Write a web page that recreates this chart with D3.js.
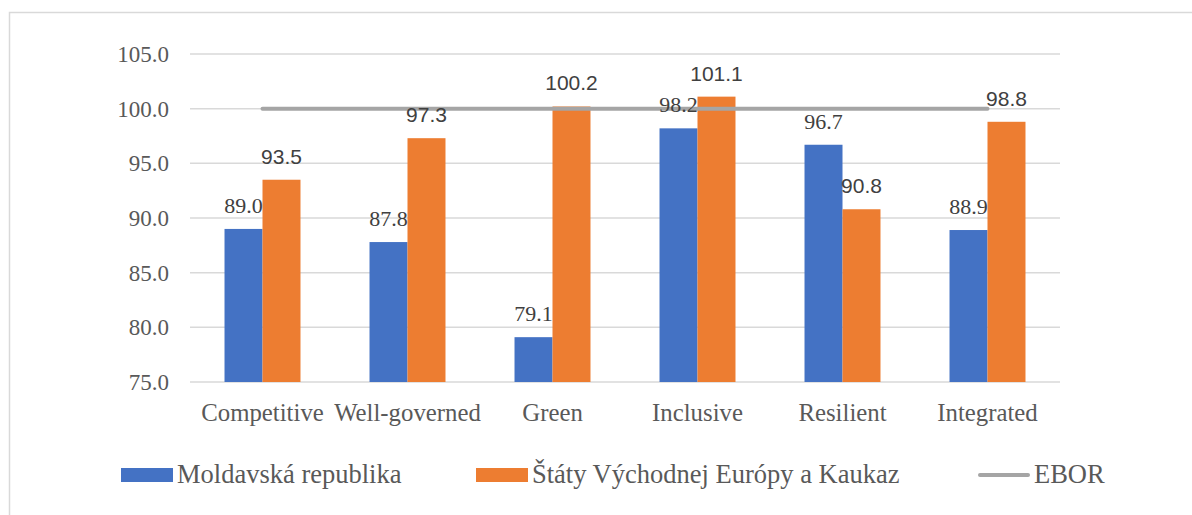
<!DOCTYPE html>
<html><head><meta charset="utf-8">
<script src="https://cdn.jsdelivr.net/npm/d3@7"></script>
<style>html,body{margin:0;padding:0;background:#fff;}svg{display:block;}</style>
</head><body>
<svg id="chart" width="1192" height="515"></svg>
<script>
const categories = ["Competitive","Well-governed","Green","Inclusive","Resilient","Integrated"];
const seriesNames = ["Moldavská republika","Štáty Východnej Európy a Kaukaz","EBOR"];
const moldova = [89.0, 87.8, 79.1, 98.2, 96.7, 88.9];
const eeCaucasus = [93.5, 97.3, 100.2, 101.1, 90.8, 98.8];
const ebor = [100, 100, 100, 100, 100, 100];
const yTicks = [75, 80, 85, 90, 95, 100, 105];

const svg = d3.select("#chart");
const txt = "#595959";
const serif = "'Liberation Serif','Times New Roman',serif";
const sans = "'Liberation Sans',Arial,sans-serif";

// outer border
svg.append("rect").attr("x",9.5).attr("y",12.5).attr("width",1200).attr("height",520)
  .attr("fill","none").attr("stroke","#d9d9d9").attr("stroke-width",1.5);

const x0 = d3.scaleBand().domain(categories).range([190,1060]).paddingInner(0.476).paddingOuter(0.238);
const x1 = d3.scaleBand().domain([0,1]).range([0,x0.bandwidth()]);
const y = d3.scaleLinear().domain([75,105]).range([382,54]);

// gridlines
svg.append("g").selectAll("line").data(yTicks).join("line")
  .attr("x1",190).attr("x2",1060).attr("y1",d=>y(d)).attr("y2",d=>y(d))
  .attr("stroke","#d9d9d9").attr("stroke-width",1.5);

// y axis labels
const yAxis = d3.axisLeft(y).tickValues(yTicks).tickFormat(d3.format(".1f")).tickSize(0).tickPadding(0);
const yg = svg.append("g").attr("transform","translate(169,0)").call(yAxis);
yg.select(".domain").remove();
yg.attr("font-family",null).attr("font-size",null);
yg.selectAll("text").style("font-family",serif).style("font-size","23px").attr("fill",txt).attr("dy","0.32em");

// x axis labels
const xAxis = d3.axisBottom(x0).tickSize(0).tickPadding(0);
const xg = svg.append("g").attr("transform","translate(0,421)").call(xAxis);
xg.select(".domain").remove();
xg.attr("font-family",null).attr("font-size",null);
xg.selectAll("text").style("font-family",serif).style("font-size","24.8px").attr("fill",txt).attr("dy",0);

const series = [moldova, eeCaucasus];
const colors = ["#4472c4","#ed7d31"];
series.forEach((vals,si)=>{
  const g = svg.append("g");
  g.selectAll("rect").data(vals).join("rect")
    .attr("x",(d,i)=>x0(categories[i])+x1(si))
    .attr("width",x1.bandwidth())
    .attr("y",d=>y(d))
    .attr("height",d=>y(75)-y(d))
    .attr("fill",colors[si]);
});

// EBOR line
const line = d3.line().x((d,i)=>x0(categories[i])+x0.bandwidth()/2).y(d=>y(d));
svg.append("path").datum(ebor).attr("d",line).attr("fill","none")
  .attr("stroke","#a5a5a5").attr("stroke-width",4).attr("stroke-linecap","round");

// value labels
series.forEach((vals,si)=>{
  svg.append("g").selectAll("text").data(vals).join("text")
    .attr("x",(d,i)=>x0(categories[i])+x1(si)+x1.bandwidth()/2)
    .attr("y",d=>y(d)-16)
    .attr("text-anchor","middle")
    .style("font-family", si===0?serif:sans)
    .style("font-size", si===0?"22px":"21px")
    .attr("fill","#404040")
    .text(d=>d3.format(".1f")(d));
});

// legend
const leg = svg.append("g");
const legItems = [
  {name:seriesNames[0], x:121, type:"rect", color:colors[0]},
  {name:seriesNames[1], x:476, type:"rect", color:colors[1]},
  {name:seriesNames[2], x:978, type:"line", color:"#a5a5a5"}
];
legItems.forEach(it=>{
  if(it.type==="rect"){
    leg.append("rect").attr("x",it.x).attr("y",468).attr("width",52).attr("height",14).attr("fill",it.color);
  } else {
    leg.append("line").attr("x1",it.x+2).attr("x2",it.x+50).attr("y1",475).attr("y2",475)
      .attr("stroke",it.color).attr("stroke-width",4).attr("stroke-linecap","round");
  }
  leg.append("text").attr("x",it.x+56).attr("y",483).attr("fill",txt)
    .style("font-family",serif).style("font-size","26.5px").text(it.name);
});
</script>
</body></html>
